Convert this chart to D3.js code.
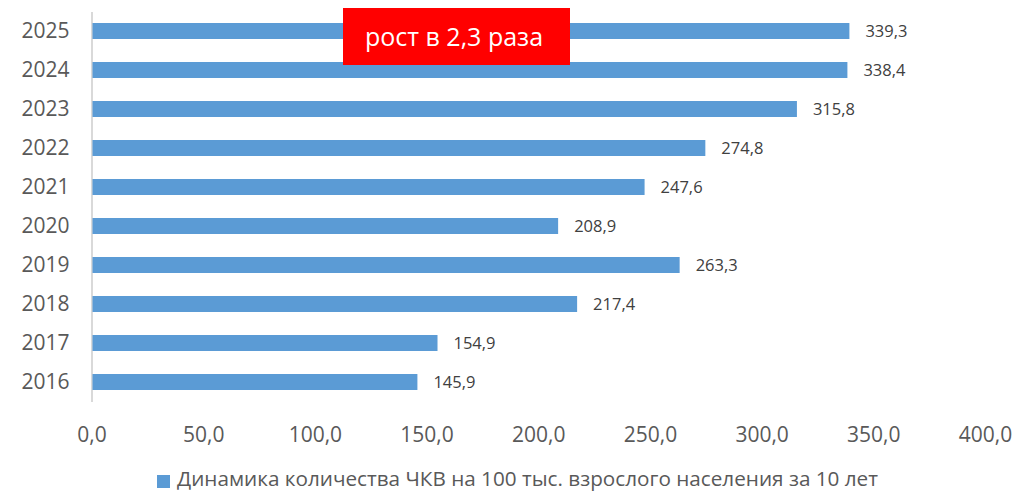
<!DOCTYPE html>
<html>
<head>
<meta charset="utf-8">
<script src="https://cdn.jsdelivr.net/npm/d3@7"></script>
<style>
  body { margin: 0; background: #fff; }
  text { font-family: "Open Sans", sans-serif; }
</style>
</head>
<body>
<div id="chart"></div>
<script>
const years = ["2016", "2017", "2018", "2019", "2020", "2021", "2022", "2023", "2024", "2025"];
const values = [145.9, 154.9, 217.4, 263.3, 208.9, 247.6, 274.8, 315.8, 338.4, 339.3];
const xTicks = [0, 50, 100, 150, 200, 250, 300, 350, 400];
const seriesName = "Динамика количества ЧКВ на 100 тыс. взрослого населения за 10 лет";
const note = "рост в 2,3 раза";

const width = 1014, height = 492;
const fmt = v => v.toFixed(1).replace(".", ",");

const svg = d3.select("#chart")
  .append("svg")
  .attr("width", width)
  .attr("height", height);

// X scale
const x = d3.scaleLinear()
  .domain([0, 400])
  .range([91.5, 985]);

// Y scale (2025 on top)
const y = d3.scaleBand()
  .domain(years.slice().reverse())
  .range([11.5, 401.5])
  .paddingInner(0.59)
  .paddingOuter(0.295);

// X axis labels only
const xAxis = svg.append("g")
  .attr("transform", "translate(0,402)")
  .call(d3.axisBottom(x).tickValues(xTicks).tickFormat(fmt).tickSize(0).tickPadding(25));
xAxis.select(".domain").remove();
xAxis.selectAll("text")
  .attr("fill", "#595959")
  .style("font-size", "21px")
  .style("font-family", "'Open Sans', sans-serif");

// Y axis
const yAxis = svg.append("g")
  .attr("transform", `translate(${x(0)},0)`)
  .call(d3.axisLeft(y).tickSize(0).tickPadding(22));
yAxis.select(".domain")
  .attr("stroke", "#d9d9d9")
  .attr("stroke-width", 2);
yAxis.selectAll("text")
  .attr("fill", "#595959")
  .style("font-size", "21px")
  .style("font-family", "'Open Sans', sans-serif");

const data = years.map((d, i) => ({year: d, value: values[i]}));

// Bars
svg.selectAll("mybar")
  .data(data)
  .join("rect")
    .attr("x", x(0) + 1)
    .attr("y", d => y(d.year))
    .attr("width", d => x(d.value) - x(0) - 1)
    .attr("height", y.bandwidth())
    .attr("fill", "#5b9bd5");

// Value labels
svg.selectAll("mylabel")
  .data(data)
  .join("text")
    .attr("x", d => x(d.value) + 16)
    .attr("y", d => y(d.year) + y.bandwidth() / 2)
    .attr("dy", "0.35em")
    .attr("fill", "#404040")
    .style("font-size", "16.5px")
    .text(d => fmt(d.value));

// Red note box
svg.append("rect")
  .attr("x", 343)
  .attr("y", 8)
  .attr("width", 227)
  .attr("height", 57)
  .attr("fill", "#ff0000");
svg.append("text")
  .attr("x", 454)
  .attr("y", 37)
  .attr("dy", "0.35em")
  .attr("text-anchor", "middle")
  .attr("fill", "#ffffff")
  .style("font-size", "25px")
  .text(note);

// Legend
svg.append("rect")
  .attr("x", 157)
  .attr("y", 475)
  .attr("width", 13)
  .attr("height", 13)
  .attr("fill", "#5b9bd5");
svg.append("text")
  .attr("x", 177)
  .attr("y", 479)
  .attr("dy", "0.35em")
  .attr("fill", "#595959")
  .style("font-size", "20.7px")
  .text(seriesName);
</script>
</body>
</html>
